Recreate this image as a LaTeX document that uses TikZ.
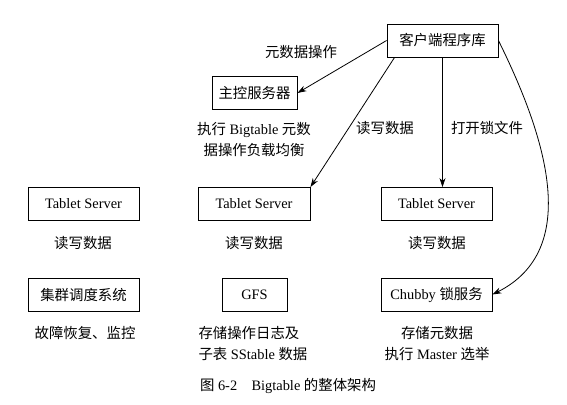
\documentclass[tikz,border=0pt]{standalone}
\usepackage{fontspec}
\setmainfont{Liberation Serif}
\newfontfamily\cjk{Noto Sans CJK SC}
\newcommand{\zh}[1]{{\cjk #1}}
\usetikzlibrary{arrows.meta}

\begin{document}
\begin{tikzpicture}[x=1pt, y=-1pt, font=\fontsize{14.4}{21}\selectfont,
        box/.style={draw, line width=0.9pt, minimum height=33pt, inner sep=0pt},
        link/.style={line width=0.8pt, -{Stealth[length=9pt, width=6pt]}}]
            \useasboundingbox (0,0) rectangle (567,404);
            \node [box, minimum width=111pt] (client) at (442.5,40.5) {\zh{客户端程序库}};
            \node [box, minimum width=85pt] (master) at (254.5,93) {\zh{主控服务器}};
            \node [box, minimum width=111pt] (ts1) at (83.5,204) {Tablet Server};
            \node [box, minimum width=112pt] (ts2) at (254,204) {Tablet Server};
            \node [box, minimum width=111pt] (ts3) at (436.5,204) {Tablet Server};
            \node [box, minimum width=111pt] (sched) at (83.5,294.5) {\zh{集群调度系统}};
            \node [box, minimum width=65pt] (gfs) at (254.5,294.5) {GFS};
            \node [box, minimum width=111pt] (chubby) at (436.5,294.5) {Chubby \zh{锁服务}};
            \node (metaop) at (301,52) {\zh{元数据操作}};
            \node [align=center] (masterdesc) at (254,140) {\zh{执行} Bigtable \zh{元数}\\\zh{据操作负载均衡}};
            \node (rw) at (385,128) {\zh{读写数据}};
            \node (lock) at (487,128) {\zh{打开锁文件}};
            \node (rw1) at (83,243) {\zh{读写数据}};
            \node (rw2) at (254,243) {\zh{读写数据}};
            \node (rw3) at (437,243) {\zh{读写数据}};
            \node (scheddesc) at (85,333) {\zh{故障恢复、监控}};
            \node [align=left, anchor=west] (gfsdesc) at (195,344) {\zh{存储操作日志及}\\\zh{子表} SStable \zh{数据}};
            \node [align=center] (chubbydesc) at (437,344) {\zh{存储元数据}\\\zh{执行} Master \zh{选举}};
            \node (caption) at (288,386) {\zh{图} 6-2\hspace{1em}Bigtable \zh{的整体架构}};
            \path [draw] (client.west) edge [link] (master.east);
            \path [draw] ([xshift=8pt]client.south west) edge [link] (ts2.north east);
            \path [draw] (client.south) edge [link] (client.south |- ts3.north);
            \path [draw, link] (client.east) .. controls +(47,95) and +(90,-45) .. (chubby.east);
        \end{tikzpicture}
\end{document}
